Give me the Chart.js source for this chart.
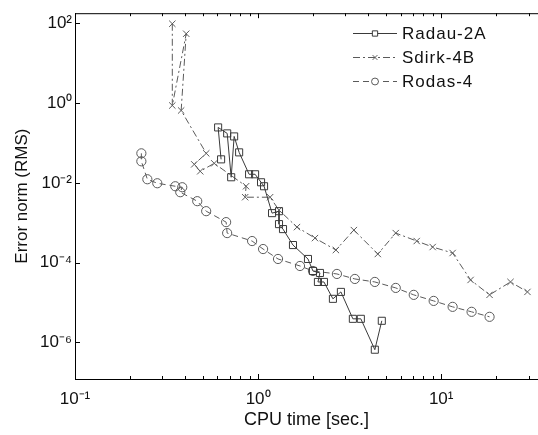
<!DOCTYPE html>
<html>
<head>
<meta charset="utf-8">
<script src="https://cdn.jsdelivr.net/npm/chart.js@4/dist/chart.umd.min.js"></script>
<style>
html,body{margin:0;padding:0;background:#fff;overflow:hidden;}
canvas{display:block;}
</style>
</head>
<body>
<canvas id="c" width="538" height="435"></canvas>
<script>
// ---- data ----
const seriesNames = ["Radau-2A", "Sdirk-4B", "Rodas-4"];

const radauX = [0.628,0.605,0.678,0.713,0.740,0.788,0.893,0.963,1.038,1.078,1.192,1.301,1.301,1.368,1.551,1.873,1.994,2.177,2.123,2.289,2.563,2.834,3.294,3.641,4.342,4.740];
const radauY = [0.0391,0.247,0.175,0.0139,0.147,0.0585,0.0165,0.0165,0.0104,0.00827,0.00175,0.00196,0.000928,0.000696,0.000277,0.000124,6.2e-5,5.53e-5,3.29e-5,3.29e-5,1.24e-5,1.85e-5,3.91e-6,3.91e-6,6.57e-7,3.49e-6];

const sdirkX = [0.340,0.340,0.405,0.380,0.521,0.448,0.483,0.576,0.860,0.850,1.163,1.301,1.631,2.045,2.661,3.336,4.508,5.649,7.353,8.989,11.55,14.48,18.38,23.92,29.6];
const sdirkY = [98.3,0.876,55.3,0.657,0.0553,0.0293,0.0196,0.0311,0.00827,0.00439,0.00439,0.00208,0.000781,0.000414,0.000208,0.000657,0.000165,0.000553,0.000349,0.000247,0.000175,3.69e-5,1.56e-5,3.29e-5,1.85e-5];

const rodasX = [0.2304,0.2304,0.2484,0.2815,0.3530,0.3853,0.3758,0.4653,0.5206,0.6691,0.6777,0.9275,1.065,1.285,1.694,1.994,2.695,3.378,4.342,5.649,7.083,9.100,11.55,14.66,18.38];
const rodasY = [0.0553,0.0349,0.01238,0.00983,0.00827,0.00781,0.00586,0.00349,0.00196,0.001041,0.000553,0.000349,0.00022,0.000124,8.27e-5,6.2e-5,5.22e-5,3.91e-5,3.29e-5,2.33e-5,1.56e-5,1.10e-5,7.81e-6,5.86e-6,4.39e-6];

const xTickValues = [0.1, 1, 10];
const xTickLabels = ["10\u207B\u00B9", "10\u2070", "10\u00B9"];
const yTickValues = [1e2, 1e0, 1e-2, 1e-4, 1e-6];
const yTickLabels = ["10\u00B2", "10\u2070", "10\u207B\u00B2", "10\u207B\u2074", "10\u207B\u2076"];

const xTitle = "CPU time [sec.]";
const yTitle = "Error norm (RMS)";

// ---- build ----
function pts(xs, ys) { return xs.map((x, i) => ({x: x, y: ys[i]})); }

const FONT = "'Liberation Sans', Arial, Helvetica, sans-serif";

const styles = [
  {color: '#3a3a3a', dash: [], point: 'rect', r: 5},
  {color: '#5a5a5a', dash: [7, 3, 2, 3], point: 'crossRot', r: 4.5},
  {color: '#5a5a5a', dash: [6, 4], point: 'circle', r: 4.6}
];
const dataSets = [pts(radauX, radauY), pts(sdirkX, sdirkY), pts(rodasX, rodasY)];

const datasets = dataSets.map((d, i) => ({
  label: seriesNames[i],
  data: d,
  showLine: true,
  borderColor: styles[i].color,
  borderWidth: 1,
  borderDash: styles[i].dash,
  pointStyle: styles[i].point,
  pointRadius: styles[i].r,
  pointBorderColor: styles[i].color,
  pointBackgroundColor: 'rgba(0,0,0,0)',
  pointBorderWidth: 1,
  tension: 0
}));

const ticksAndLegend = {
  id: 'ticksAndLegend',
  afterDraw(chart) {
    const ctx = chart.ctx;
    const a = chart.chartArea;
    const xs = chart.scales.x, ys = chart.scales.y;
    ctx.save();
    ctx.strokeStyle = '#000';
    ctx.lineWidth = 1;
    ctx.setLineDash([]);
    // top border
    ctx.beginPath();
    ctx.moveTo(a.left, a.top + 0.5);
    ctx.lineTo(a.right, a.top + 0.5);
    ctx.stroke();
    // x ticks (major + minor), bottom and top, inward
    ctx.beginPath();
    for (let e = -1; e <= 1; e++) {
      for (let k = 1; k <= 9; k++) {
        const v = k * Math.pow(10, e);
        if (v < xs.min || v > xs.max) continue;
        const px = Math.round(xs.getPixelForValue(v)) + 0.5;
        const len = (k === 1) ? 5 : 3;
        ctx.moveTo(px, a.bottom); ctx.lineTo(px, a.bottom - len);
        ctx.moveTo(px, a.top); ctx.lineTo(px, a.top + len);
      }
    }
    // y ticks
    yTickValues.forEach(v => {
      const py = Math.round(ys.getPixelForValue(v)) + 0.5;
      ctx.moveTo(a.left, py); ctx.lineTo(a.left + 5, py);
    });
    ctx.stroke();

    // legend
    const lx0 = 353, lx1 = 397, tx = 402;
    const rowsY = [33, 57, 81];
    ctx.font = '17px ' + FONT;
    ctx.textBaseline = 'middle';
    ctx.textAlign = 'left';
    try { ctx.letterSpacing = '1px'; } catch (e) {}
    chart.data.datasets.forEach((ds, i) => {
      const y = rowsY[i] + 0.5;
      ctx.strokeStyle = ds.borderColor;
      ctx.setLineDash(ds.borderDash);
      ctx.beginPath();
      ctx.moveTo(lx0, y); ctx.lineTo(lx1, y);
      ctx.stroke();
      ctx.setLineDash([]);
      ctx.fillStyle = '#fff';
      Chart.helpers.drawPoint(ctx, {pointStyle: ds.pointStyle, radius: ds.pointRadius * 0.75, borderWidth: 1}, (lx0 + lx1) / 2, y);
      ctx.fillStyle = '#111';
      ctx.fillText(ds.label, tx, rowsY[i] + 1);
    });
    ctx.restore();
  }
};

new Chart(document.getElementById('c'), {
  type: 'scatter',
  data: {datasets: datasets},
  plugins: [ticksAndLegend],
  options: {
    responsive: false,
    animation: false,
    devicePixelRatio: 1,
    layout: {autoPadding: false, padding: {top: 12, right: 0, left: 0, bottom: 0}},
    plugins: {legend: {display: false}, tooltip: {enabled: false}},
    scales: {
      x: {
        type: 'logarithmic',
        min: 0.1,
        max: 33.8,
        afterBuildTicks: s => { s.ticks = xTickValues.map(v => ({value: v})); },
        afterFit: s => { s.height = 56; },
        ticks: {
          autoSkip: false, maxRotation: 0, padding: 10, color: '#111',
          font: {family: FONT, size: 17},
          callback: (v) => { const i = xTickValues.indexOf(v); return i >= 0 ? xTickLabels[i] : ''; }
        },
        grid: {display: false, drawTicks: false},
        border: {display: true, color: '#000', width: 1},
        title: {display: true, text: xTitle, color: '#111', font: {family: FONT, size: 18}, padding: {top: 0, bottom: 4}}
      },
      y: {
        type: 'logarithmic',
        min: 1.21e-7,
        max: 181,
        afterBuildTicks: s => { s.ticks = yTickValues.map(v => ({value: v})); },
        afterFit: s => { s.width = 75; },
        ticks: {
          autoSkip: false, padding: 3, color: '#111',
          font: {family: FONT, size: 17},
          callback: (v) => { const i = yTickValues.findIndex(t => Math.abs(t - v) / t < 1e-9); return i >= 0 ? yTickLabels[i] : ''; }
        },
        grid: {display: false, drawTicks: false},
        border: {display: true, color: '#000', width: 1},
        title: {display: true, text: yTitle, color: '#111', font: {family: FONT, size: 17}, padding: {top: 12, bottom: 0}}
      }
    }
  }
});
</script>
</body>
</html>
